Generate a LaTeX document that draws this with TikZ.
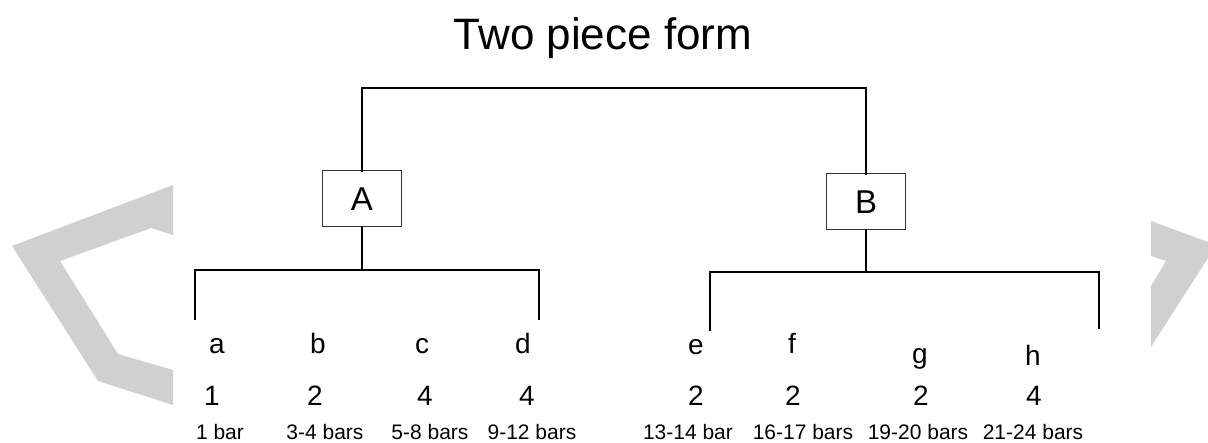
\documentclass[tikz,border=0pt]{standalone}
\usepackage{fontspec}
\setmainfont{Liberation Sans}
\definecolor{chevgray}{RGB}{208,208,208}
\tikzset{
  bracket/.style={line width=2.5pt, line cap=rect},
  part/.style={draw=black!80, line width=1pt, minimum width=79pt, minimum height=56pt, inner sep=0pt, font=\fontsize{33}{40}\selectfont},
  letter/.style={anchor=base, inner sep=0pt, font=\fontsize{28}{32}\selectfont},
  count/.style={anchor=base, inner sep=0pt, font=\fontsize{28}{32}\selectfont},
  bars/.style={anchor=base, inner sep=0pt, font=\fontsize{21}{24}\selectfont}
}
\begin{document}
\begin{tikzpicture}[x=1pt, y=-1pt]
  \useasboundingbox (0,0) rectangle (1208,443);
  \fill[chevgray] (173,185) -- (12,246) -- (98,381) -- (173,405) -- (173,370)
    -- (118,354) -- (60,261) -- (151,228) -- (173,235) -- cycle;
  \fill[chevgray] (1151,221) -- (1208,242) -- (1208,258) -- (1151,347)
    -- (1151,286) -- (1166,261) -- (1151,256) -- cycle;
  \node[anchor=base, inner sep=0pt, font=\fontsize{44}{50}\selectfont] (title) at (603,50) {Two piece form};
  \node[part] (A) at (362,199) {A};
  \node[part] (B) at (866,202) {B};
  \coordinate (top) at (600,88);
  \coordinate (ja) at (362,270);
  \coordinate (jb) at (866,272);
  \coordinate (ta) at (195,319);
  \coordinate (td) at (539,319);
  \coordinate (te) at (710,330);
  \coordinate (th) at (1099,328);
  \begin{scope}[bracket]
    \draw (A.north) |- (top) -| (B.north);
    \draw (A.south) -- (ja);
    \draw (ta) -- (ta |- ja) -- (td |- ja) -- (td);
    \draw (B.south) -- (jb);
    \draw (te) -- (te |- jb) -- (th |- jb) -- (th);
  \end{scope}
  \node[letter] (la) at (217,354) {a};
  \node[letter] (lb) at (318,354) {b};
  \node[letter] (lc) at (422,354) {c};
  \node[letter] (ld) at (523,354) {d};
  \node[letter] (le) at (696,355) {e};
  \node[letter] (lf) at (792,354) {f};
  \node[letter] (lg) at (920,364) {g};
  \node[letter] (lh) at (1033,366) {h};
  \node[count] (na) at (212,406) {1};
  \node[count] (nb) at (315,406) {2};
  \node[count] (nc) at (425,406) {4};
  \node[count] (nd) at (527,406) {4};
  \node[count] (ne) at (696,406) {2};
  \node[count] (nf) at (793,406) {2};
  \node[count] (ng) at (921,406) {2};
  \node[count] (nh) at (1034,406) {4};
  \node[bars] (ba) at (220,440) {1 bar};
  \node[bars] (bb) at (325,440) {3-4 bars};
  \node[bars] (bc) at (430,440) {5-8 bars};
  \node[bars] (bd) at (532,440) {9-12 bars};
  \node[bars] (be) at (688,440) {13-14 bar};
  \node[bars] (bf) at (803,440) {16-17 bars};
  \node[bars] (bg) at (918,440) {19-20 bars};
  \node[bars] (bh) at (1033,440) {21-24 bars};
\end{tikzpicture}
\end{document}
